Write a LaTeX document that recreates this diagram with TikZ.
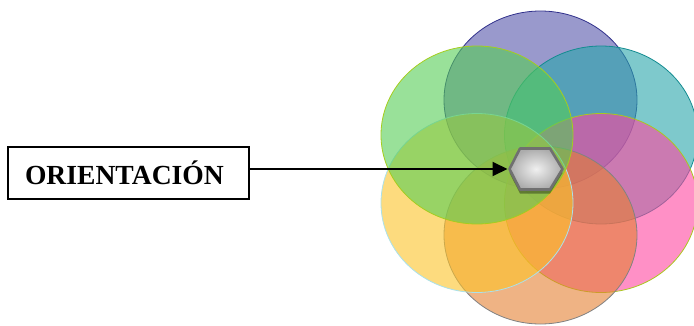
\documentclass[tikz,border=0pt]{standalone}
\usepackage{fontspec}
\setmainfont{Liberation Serif}
\usetikzlibrary{arrows.meta}

\definecolor{cPurple}{RGB}{85,85,170}
\definecolor{cPurpleE}{RGB}{50,50,140}
\definecolor{cTeal}{RGB}{40,165,170}
\definecolor{cTealE}{RGB}{20,140,145}
\definecolor{cPink}{RGB}{255,70,160}
\definecolor{cPinkE}{RGB}{170,200,30}
\definecolor{cOrange}{RGB}{228,128,50}
\definecolor{cOrangeE}{RGB}{130,130,130}
\definecolor{cYellow}{RGB}{252,195,40}
\definecolor{cYellowE}{RGB}{170,225,235}
\definecolor{cGreen}{RGB}{85,205,85}
\definecolor{cGreenE}{RGB}{165,205,30}
\definecolor{hexEdge}{RGB}{112,112,112}

\tikzset{
  petal/.style 2 args={fill=#1, fill opacity=0.6, draw=#2, draw opacity=1, line width=0.8pt},
  labelbox/.style={draw=black, line width=1.6pt, minimum width=241pt, minimum height=52pt,
    text width=207pt, inner xsep=17pt, align=left, font=\bfseries\fontsize{27.6pt}{30pt}\selectfont},
  pointer/.style={line width=2pt, -{Triangle[length=15pt,width=14pt]}}
}

\begin{document}
\begin{tikzpicture}[x=1pt,y=1pt]
  \useasboundingbox (0,0) rectangle (694,325);

  % six translucent petals (centres measured from the top edge, so y = 325 - v)
  \path[petal={cPurple}{cPurpleE}] (540.5,225) ellipse [x radius=96.5, y radius=89];
  \path[petal={cTeal}{cTealE}]     (601,190)   ellipse [x radius=96.5, y radius=89];
  \path[petal={cPink}{cPinkE}]     (601,122)   ellipse [x radius=96.5, y radius=89.5];
  \path[petal={cOrange}{cOrangeE}] (540.5,90)  ellipse [x radius=96.5, y radius=89];
  \path[petal={cYellow}{cYellowE}] (477,122)   ellipse [x radius=96, y radius=89.5];
  \path[petal={cGreen}{cGreenE}]   (477,190)   ellipse [x radius=96, y radius=89];

  % central hexagon with soft shadow
  \fill[black, opacity=0.35] (509.5,152) -- (520,173.5) -- (550,173.5) -- (562.5,152)
        -- (550,131.5) -- (520,131.5) -- cycle;
  \path[draw=hexEdge, line width=2.6pt, line join=round,
        inner color=gray!12, outer color=gray!65]
        (509.5,156) -- (520,176.5) -- (550,176.5) -- (562.5,156)
        -- (550,135.5) -- (520,135.5) -- cycle;
  \coordinate (hexL) at (507.5,156);

  % label box and pointer
  \node[labelbox] (box) at (128.5,152) {ORIENTACIÓN};
  \draw[pointer] (box.east |- hexL) -- (hexL);
\end{tikzpicture}
\end{document}
